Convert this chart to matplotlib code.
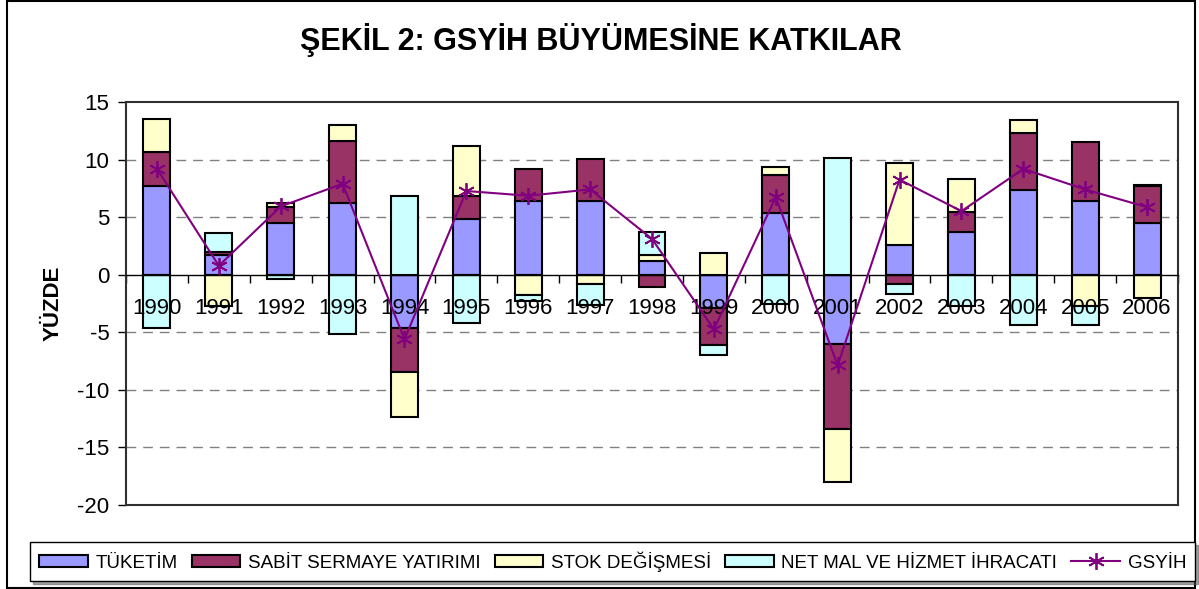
#GSYIH BUYUMESINE KATKILAR
import numpy as np
import matplotlib
matplotlib.use('Agg')
import matplotlib.pyplot as plt
from matplotlib.patches import Rectangle

plt.rcParams['font.family'] = ['Liberation Sans', 'DejaVu Sans']
plt.rcParams['axes.unicode_minus'] = False

#DATA
years = ['1990', '1991', '1992', '1993', '1994', '1995', '1996', '1997', '1998',
         '1999', '2000', '2001', '2002', '2003', '2004', '2005', '2006']
tuketim = [7.67, 1.69, 4.53, 6.22, -4.65, 4.88, 6.37, 6.37, 1.22,
           -2.85, 5.35, -5.99, 2.59, 3.72, 7.38, 6.37, 4.53]
sabit = [3.0, 0.25, 1.34, 5.41, -3.81, 1.92, 2.82, 3.66, -1.05,
         -3.28, 3.28, -7.41, -0.81, 1.69, 4.94, 5.14, 3.14]
stok = [2.82, -2.7, 0.35, 1.4, -3.92, 4.39, -1.8, -0.81, 0.47,
        1.92, 0.73, -4.57, 7.12, 2.93, 1.16, -2.7, -2.03]
net = [-4.65, 1.65, -0.38, -5.17, 6.86, -4.16, -0.52, -1.8, 2.06,
       -0.85, -2.56, 10.15, -0.87, -2.7, -4.36, -1.66, 0.15]
gsyih = [9.2, 0.78, 5.93, 7.9, -5.61, 7.27, 6.86, 7.41, 3.11,
         -4.74, 6.74, -7.88, 8.26, 5.52, 9.19, 7.41, 5.87]

series = [('TÜKETİM', tuketim, '#9999FF'),
          ('SABİT SERMAYE YATIRIMI', sabit, '#993366'),
          ('STOK DEĞİŞMESİ', stok, '#FFFFCC'),
          ('NET MAL VE HİZMET İHRACATI', net, '#CCFFFF')]

#PLOT
fig = plt.figure(figsize=(11.99, 5.89), dpi=100)
ax = fig.add_axes([0.1051, 0.1426, 0.8774, 0.6842])

x = np.arange(len(years))
pos_bottom = np.zeros(len(years))
neg_bottom = np.zeros(len(years))
handles = []
for name, vals, color in series:
    vals = np.array(vals)
    bottom = np.where(vals >= 0, pos_bottom, neg_bottom)
    b = ax.bar(x, vals, width=0.435, bottom=bottom, color=color,
               edgecolor='black', linewidth=1.5, label=name, zorder=1)
    handles.append(b)
    pos_bottom += np.where(vals >= 0, vals, 0)
    neg_bottom += np.where(vals < 0, vals, 0)

line, = ax.plot(x, gsyih, color='#800080', linewidth=1.5, marker=(6, 2, 0),
                markersize=12, markeredgewidth=1.3, label='GSYİH', zorder=3)
handles.append(line)

#Ejes
ax.set_xlim(-0.5, len(years) - 0.5)
ax.set_ylim(-20, 15)
ax.set_yticks(np.arange(-20, 16, 5))
ax.tick_params(axis='y', labelsize=16, length=6, width=1, direction='out', pad=6)

for g in [-15, -10, -5, 5, 10]:
    ax.axhline(g, color='#808080', linewidth=1, linestyle=(0, (7, 5)), zorder=0)

ax.spines['bottom'].set_position(('data', 0))
ax.spines['bottom'].set_linewidth(1)
ax.set_xticks(np.arange(-0.5, len(years), 1))
ax.set_xticklabels([])
ax.set_xticks(x, minor=True)
ax.set_xticklabels(years, minor=True)
ax.tick_params(axis='x', which='major', length=6, width=1, direction='out')
ax.tick_params(axis='x', which='minor', length=0, labelsize=16, pad=17)
for s in ['top', 'right', 'left']:
    ax.spines[s].set_linewidth(1.5)
    ax.spines[s].set_color('#303030')
ax.plot([0, 1], [0, 0], transform=ax.transAxes, color='#303030',
        linewidth=1.5, clip_on=False, zorder=4)

ax.set_ylabel('YÜZDE', fontsize=16, fontweight='bold', labelpad=10)

fig.text(0.501, 0.932, 'ŞEKİL 2: GSYİH BÜYÜMESİNE KATKILAR', ha='center',
         va='center', fontsize=22, fontweight='bold')

#Leyenda
leg = fig.legend(handles=handles, loc='lower left',
                 bbox_to_anchor=(0.025, 0.0136, 0.972, 0.068),
                 mode='expand', ncol=5, fontsize=13.5, frameon=True, fancybox=False,
                 shadow=True, handlelength=2.6, handleheight=0.6,
                 handletextpad=0.4, columnspacing=0.5, borderpad=0.5,
                 borderaxespad=0)
leg.get_frame().set_edgecolor('black')
leg.get_frame().set_linewidth(1)

#Borde exterior
fig.patches.append(Rectangle((0.0058, 0.002), 0.991, 0.997, transform=fig.transFigure,
                             fill=False, edgecolor='black', linewidth=1.5))

fig.savefig('out.png', dpi=100)
